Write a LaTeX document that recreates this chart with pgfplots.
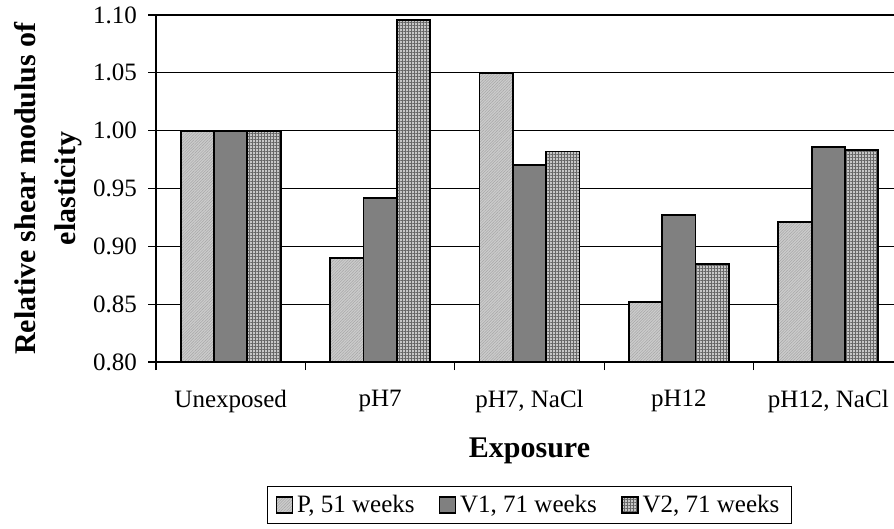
\documentclass[border=0pt]{standalone}
\usepackage{fontspec}
\setmainfont{Liberation Serif}
\usepackage{pgfplots}
\pgfplotsset{compat=1.18}
\usetikzlibrary{patterns.meta}

\begin{document}
\begin{tikzpicture}[x=1pt,y=1pt]
\begin{axis}[
  at={(78pt,-181pt)}, anchor=south west,
  scale only axis, width=373.5pt, height=173.5pt,
  ybar=0pt, bar width=0.223,
  xmin=-0.5, xmax=4.5, ymin=0.8, ymax=1.1,
  xtick={0,1,2,3,4},
  xticklabels={Unexposed,pH7,{pH7, NaCl},pH12,{pH12, NaCl}},
  major x tick style={draw=none},
  minor xtick={-0.5,0.5,1.5,2.5,3.5,4.5},
  ytick={0.80,0.85,0.90,0.95,1.00,1.05,1.10},
  yticklabel style={/pgf/number format/.cd, fixed, fixed zerofill, precision=2, /tikz/.cd, xshift=-2pt},
  xticklabel style={yshift=-6.5pt},
  /pgf/number format/assume math mode=true,
  xtick pos=bottom, ytick pos=left,
  tick align=outside, major tick length=4pt, minor tick length=4pt,
  tick style={black, line width=0.6pt},
  ymajorgrids, grid style={black, line width=0.6pt},
  axis line style={line width=1pt},
  ticklabel style={font=\fontsize{12.5}{14}\selectfont},
  xlabel={Exposure},
  xlabel style={font=\bfseries\fontsize{15}{18}\selectfont, at={(axis description cs:0.5,-0.255)}, anchor=center},
  ylabel={Relative shear modulus of\\elasticity},
  ylabel style={font=\bfseries\fontsize{15}{20}\selectfont, align=center, at={(axis description cs:-0.145,0.5)}, anchor=center},
  legend columns=3,
  legend style={at={(axis description cs:0.5,-0.412)}, anchor=center, draw=black, line width=0.6pt,
    font=\fontsize{12.5}{14}\selectfont, inner xsep=4pt,
    /tikz/every even column/.append style={column sep=10pt}},
  legend image code/.code={\draw[#1, line width=0.8pt] (0pt,-4pt) rectangle (8pt,4pt);},
]
\addplot[fill=black!20, draw=black, line width=0.9pt,
  postaction={pattern={Lines[angle=45,distance=1pt,line width=0.25pt]}, pattern color=black!35}]
  coordinates {(0,1.000) (1,0.890) (2,1.050) (3,0.852) (4,0.921)};
\addplot[fill=black!50, draw=black, line width=0.9pt]
  coordinates {(0,1.000) (1,0.942) (2,0.970) (3,0.927) (4,0.986)};
\addplot[fill=black!22, draw=black, line width=0.9pt,
  postaction={pattern={Hatch[angle=0,distance=1.5pt,line width=0.4pt]}, pattern color=black!60}]
  coordinates {(0,1.000) (1,1.096) (2,0.982) (3,0.885) (4,0.983)};
\legend{{P, 51 weeks},{V1, 71 weeks},{V2, 71 weeks}}
\end{axis}
\pgfresetboundingbox
\useasboundingbox (0,0) rectangle (447pt,-264.5pt);
\end{tikzpicture}
\end{document}
